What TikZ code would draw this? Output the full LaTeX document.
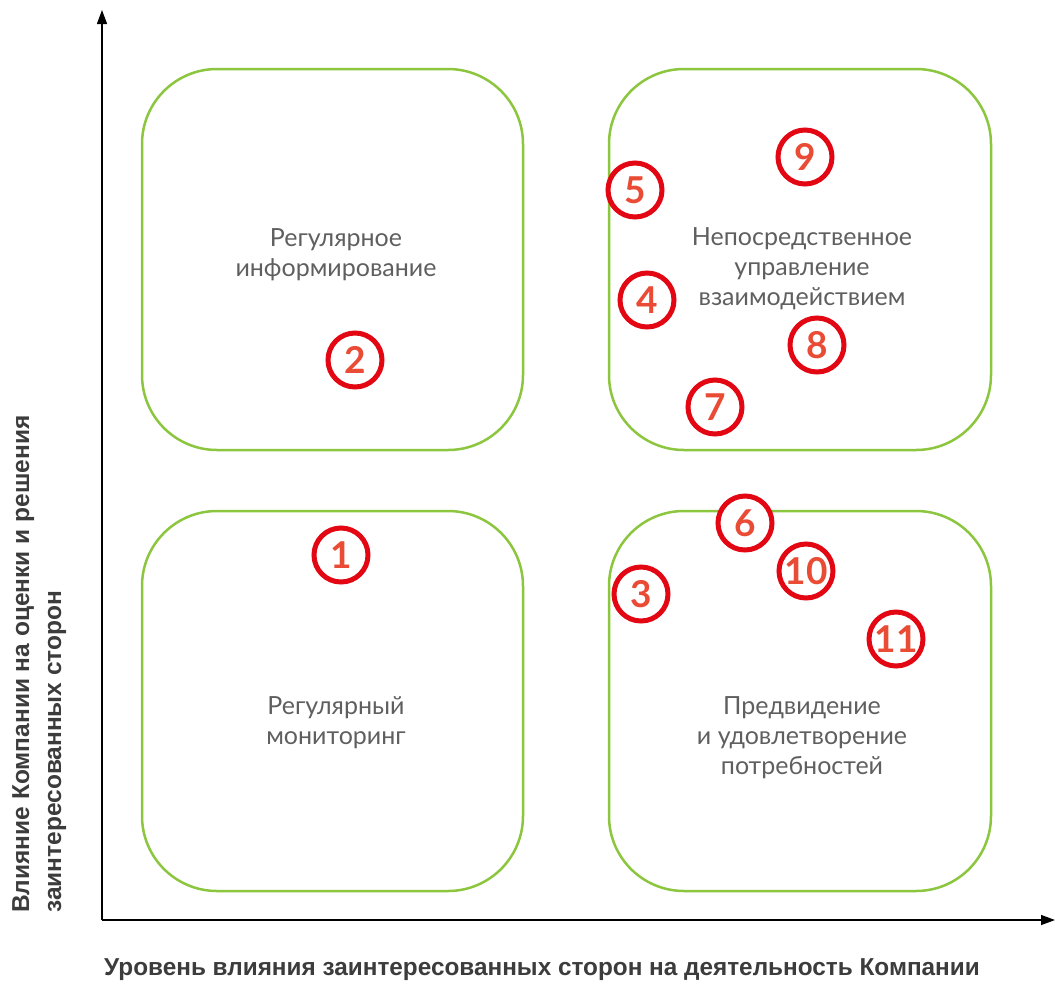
\documentclass[tikz,border=0pt]{standalone}
\usepackage{fontspec}
\setmainfont{Lato}
\newfontfamily\axisfont{Liberation Sans Bold}
\usetikzlibrary{arrows.meta}
\definecolor{qgreen}{HTML}{8CC63F}
\definecolor{cred}{HTML}{E30613}
\definecolor{nred}{HTML}{E94B35}
\definecolor{qtext}{HTML}{5F5F5F}
\definecolor{atext}{HTML}{3C3C3C}
\tikzset{
  quad/.style={draw=qgreen, line width=2.5pt, rounded corners=75pt},
  qlabel/.style={text=qtext, font=\fontsize{25}{30}\selectfont, align=center},
  num/.style={circle, draw=cred, line width=5pt, fill=white, minimum size=54pt, inner sep=0pt, text=nred, font=\fontsize{37}{37}\selectfont\bfseries},
  axis/.style={line width=1.3pt, -{Triangle[length=14pt,width=10pt]}},
  alabel/.style={text=atext, font=\axisfont\fontsize{24.5}{32}\selectfont}
}
\begin{document}
\begin{tikzpicture}[x=1pt,y=-1pt]
\useasboundingbox (0,0) rectangle (1055,986);
% quadrants
\draw[quad] (142,69) rectangle (523,450);
\draw[quad] (609,69) rectangle (991,450);
\draw[quad] (142,511) rectangle (523,891);
\draw[quad] (609,511) rectangle (991,891);
% axes
\coordinate (o) at (102,920);
\coordinate (ytip) at (102,10);
\coordinate (xtip) at (1055,920);
\draw[axis] (o) -- (ytip);
\draw[axis] (o) -- (xtip);
% quadrant labels
\node[qlabel] (q1) at (336,255) {Регулярное\\информирование};
\node[qlabel] (q2) at (802,269) {Непосредственное\\управление\\взаимодействием};
\node[qlabel] (q3) at (336,723) {Регулярный\\мониторинг};
\node[qlabel] (q4) at (802,738) {Предвидение\\и удовлетворение\\потребностей};
% axis labels
\node[alabel, anchor=west, inner sep=0pt] (xl) at (104,970) {\scalebox{0.993}[1]{Уровень влияния заинтересованных сторон на деятельность Компании}};
\node[alabel, rotate=90, anchor=north west, align=left, inner sep=0pt] (yl) at (12,913) {Влияние Компании на оценки и решения\\заинтересованных сторон};
% numbered circles
\node[num] (n2) at (355,360) {2};
\node[num] (n1) at (341,555) {1};
\node[num] (n5) at (635,190) {5};
\node[num] (n9) at (805,157) {9};
\node[num] (n4) at (647,300) {4};
\node[num] (n8) at (817,345) {8};
\node[num] (n7) at (715,407) {7};
\node[num] (n6) at (745,523) {6};
\node[num] (n10) at (806,571) {10};
\node[num] (n3) at (641,594) {3};
\node[num] (n11) at (896,639) {11};
\end{tikzpicture}
\end{document}
